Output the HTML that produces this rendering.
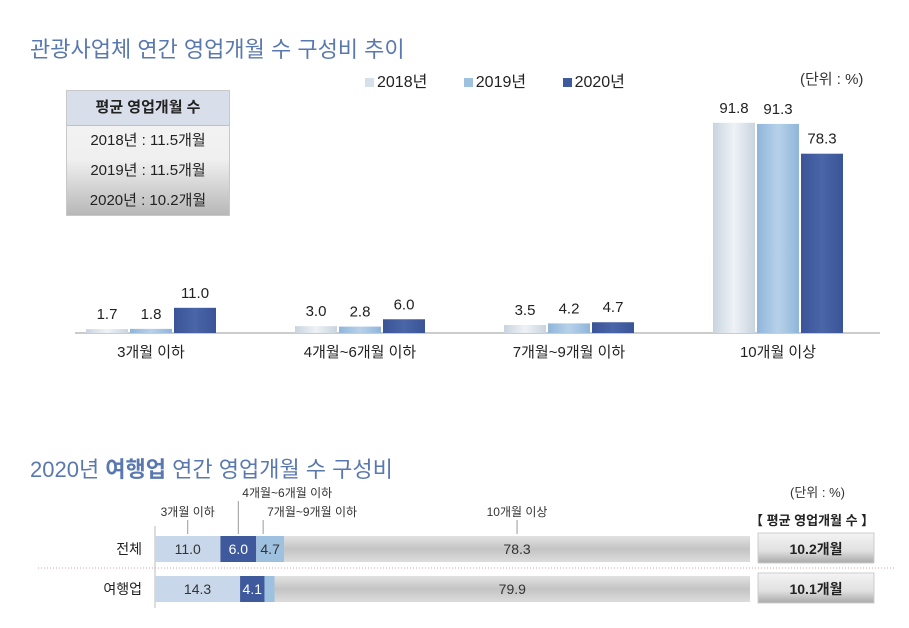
<!DOCTYPE html>
<html><head><meta charset="utf-8">
<style>
body{margin:0;background:#fff;font-family:"Liberation Sans","Noto Sans CJK KR",sans-serif;}
#wrap{position:relative;width:909px;height:628px;overflow:hidden;}
.t{position:absolute;white-space:nowrap;}
</style></head>
<body>
<div id="wrap">
<div class="t" style="left:30px;top:32px;font-size:22px;color:#5a78b0;">관광사업체 연간 영업개월 수 구성비 추이</div>
<div class="t" style="left:800px;top:68px;font-size:15px;color:#333;">(단위 : %)</div>
<div class="t" style="left:365px;top:68px;font-size:16px;color:#222;">
 <span><span style="display:inline-block;width:9px;height:9px;background:#d6e0ea;margin-right:3px"></span>2018년</span>
 <span style="margin-left:32px"><span style="display:inline-block;width:9px;height:9px;background:#9fc1e0;margin-right:3px"></span>2019년</span>
 <span style="margin-left:32px"><span style="display:inline-block;width:9px;height:9px;background:#3f5a9c;margin-right:3px"></span>2020년</span>
</div>
<div style="position:absolute;left:66px;top:90px;width:162px;height:124px;border:1px solid #c8c8c8;background:linear-gradient(#f4f4f4,#f0f0f0 55%,#b8b8b8);">
 <div style="height:34px;background:#d9dfea;border-bottom:1px solid #c0c0c0;text-align:center;line-height:34px;font-weight:bold;font-size:15px;color:#222;">평균 영업개월 수</div>
 <div style="text-align:center;font-size:15px;color:#222;line-height:30px;">
  <div>2018년 : 11.5개월</div>
  <div>2019년 : 11.5개월</div>
  <div>2020년 : 10.2개월</div>
 </div>
</div>
<svg id="topchart" width="909" height="400" style="position:absolute;left:0;top:0">
 <defs>
  <linearGradient id="g18" x1="0" x2="1"><stop offset="0" stop-color="#c9d4df"/><stop offset=".5" stop-color="#eef2f6"/><stop offset="1" stop-color="#c9d4df"/></linearGradient>
  <linearGradient id="g19" x1="0" x2="1"><stop offset="0" stop-color="#8fb5da"/><stop offset=".5" stop-color="#b8d1ea"/><stop offset="1" stop-color="#8fb5da"/></linearGradient>
  <linearGradient id="g20" x1="0" x2="1"><stop offset="0" stop-color="#3a5497"/><stop offset=".5" stop-color="#4a66a8"/><stop offset="1" stop-color="#3a5497"/></linearGradient>
 </defs>
</svg>
<div class="t" style="left:30px;top:452px;font-size:22px;color:#5a78b0;">2020년 <b>여행업</b> 연간 영업개월 수 구성비</div>
<div class="t" style="left:790px;top:482px;font-size:13px;color:#333;">(단위 : %)</div>
<div class="t" style="left:750px;top:510px;font-size:13px;font-weight:bold;color:#222;">【 평균 영업개월 수 】</div>
<svg id="botchart" width="909" height="628" style="position:absolute;left:0;top:0">
 <defs>
  <linearGradient id="bg" x1="0" y1="0" x2="0" y2="1"><stop offset="0" stop-color="#e2e2e2"/><stop offset=".5" stop-color="#c4c4c4"/><stop offset="1" stop-color="#dcdcdc"/></linearGradient>
  <linearGradient id="box" x1="0" y1="0" x2="0" y2="1"><stop offset="0" stop-color="#f4f4f4"/><stop offset=".6" stop-color="#e0e0e0"/><stop offset="1" stop-color="#a8a8a8"/></linearGradient>
 </defs>
</svg>
</div>
<script>
const categories=["3개월 이하","4개월~6개월 이하","7개월~9개월 이하","10개월 이상"];
const years=["2018년","2019년","2020년"];
const v2018=[1.7,3.0,3.5,91.8];
const v2019=[1.8,2.8,4.2,91.3];
const v2020=[11.0,6.0,4.7,78.3];
const rows=["전체","여행업"];
const segAll=[11.0,6.0,4.7,78.3];
const segTravel=[14.3,4.1,1.7,79.9];
const avgLabels=["10.2개월","10.1개월"];
const NS="http://www.w3.org/2000/svg";
function mk(p,t,a){const e=document.createElementNS(NS,t);for(const k in a)e.setAttribute(k,a[k]);p.appendChild(e);return e;}
const topSvg=document.getElementById('topchart');
const base=333,scaleY=v=>v*2.29,groupX=i=>151+i*209,bw=42;
const series=[v2018,v2019,v2020],fills=["url(#g18)","url(#g19)","url(#g20)"];
const ax=mk(topSvg,'line',{x1:75,x2:880,y1:base,y2:base,stroke:'#999','stroke-width':1});


categories.forEach((c,i)=>{
 series.forEach((s,j)=>{
  const x=groupX(i)-65+j*44,h=scaleY(s[i]);
  const r=mk(topSvg,'rect',{x:x,y:base-h,width:bw,height:h,fill:fills[j]});
  
  
  const t=mk(topSvg,'text',{x:x+bw/2,y:base-h-10,'text-anchor':'middle','font-size':15,fill:'#222'});
  
  
  t.textContent=s[i].toFixed(1);
 });
 const l=mk(topSvg,'text',{x:groupX(i),y:base+24,'text-anchor':'middle','font-size':15,fill:'#222'});
 
 
 l.textContent=c;
});
const botSvg=document.getElementById('botchart');
const x0=155,xs=v=>v*5.95,rowY=[536,576],rh=26;
const segFill=["#c8d8ea","#3f5a9c","#9fc1e0","url(#bg)"],segText=["#333","#fff","#333","#333"];
const vl=mk(botSvg,'line',{x1:x0,x2:x0,y1:526,y2:608,stroke:'#bbb'});


const dl=mk(botSvg,'line',{x1:38,x2:895,y1:568,y2:568,stroke:'#d9a0a0','stroke-dasharray':'1,2'});


[segAll,segTravel].forEach((seg,r)=>{
 const y=rowY[r];
 const bgr=mk(botSvg,'rect',{x:x0,y:y,width:xs(100),height:rh,fill:'url(#bg)'});
 
 
 let cx=x0;
 seg.forEach((v,k)=>{
  const w=xs(v);
  const rc=mk(botSvg,'rect',{x:cx,y:y,width:w,height:rh,fill:segFill[k]});
  
  
  const small=w<20;
  const t=mk(botSvg,'text',{x:small?cx+w+6:cx+w/2,y:y+18,'text-anchor':small?'start':'middle','font-size':14,fill:small?'#333':segText[k]});
  
  
  t.textContent=v.toFixed(1);
  cx+=w;
 });
 const rl=mk(botSvg,'text',{x:142,y:y+18,'text-anchor':'end','font-size':14,fill:'#222'});
 
 
 rl.textContent=rows[r];
 const b=mk(botSvg,'rect',{x:758,y:y-3,width:116,height:30,fill:'url(#box)',stroke:'#ccc'});
 
 
 const bt=mk(botSvg,'text',{x:816,y:y+18,'text-anchor':'middle','font-size':14,'font-weight':'bold',fill:'#222'});
 
 
 bt.textContent=avgLabels[r];
});
const lblY=[516,497,516,516];
let acc=x0;
segAll.forEach((v,k)=>{
 const w=xs(v),mx=acc+w/2;acc+=w;
 const lx=k==2?mx-7:mx;
 const ln=mk(botSvg,'line',{x1:lx,x2:lx,y1:lblY[k]+4,y2:rowY[0]-2,stroke:'#999'});
 
 
 const t=mk(botSvg,'text',{x:k==1||k==2?lx+4:lx,y:lblY[k],'text-anchor':k==1||k==2?'start':'middle','font-size':12,fill:'#333'});
 
 
 t.textContent=categories[k];
});
</script>
</body></html>
